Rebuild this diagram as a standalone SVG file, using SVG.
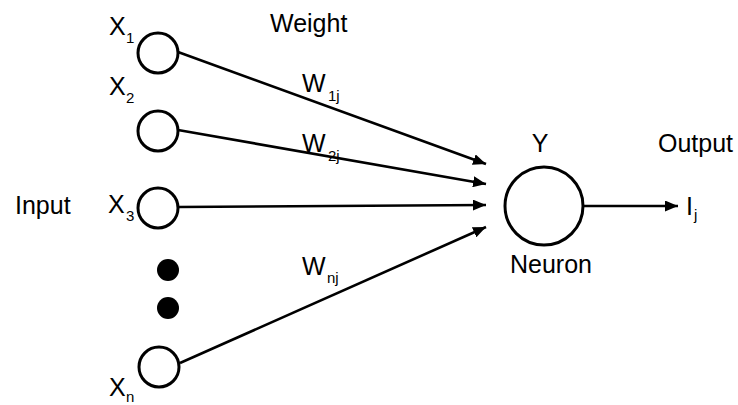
<svg xmlns="http://www.w3.org/2000/svg" width="738" height="405" viewBox="0 0 738 405">
<style>
text{font-family:"Liberation Sans",Arial,sans-serif;fill:#000}
.t{font-size:25px}
.s{font-size:15px}
.node{fill:#fff;stroke:#000;stroke-width:3}
.edge{stroke:#000;stroke-width:2.6;fill:none}
</style>
<defs>
<marker id="ah" markerUnits="userSpaceOnUse" markerWidth="13" markerHeight="11" refX="13" refY="5.5" orient="auto">
<path d="M0,0 L13,5.5 L0,11 z" fill="#000"/>
</marker>
</defs>
<rect width="738" height="405" fill="#fff"/>
<g id="connectors">
<line class="edge" x1="178" y1="52" x2="486" y2="164" marker-end="url(#ah)"/>
<line class="edge" x1="178" y1="130" x2="486" y2="184" marker-end="url(#ah)"/>
<line class="edge" x1="178" y1="207" x2="486" y2="205" marker-end="url(#ah)"/>
<line class="edge" x1="180" y1="363" x2="486" y2="227" marker-end="url(#ah)"/>
<line class="edge" x1="583" y1="206" x2="678" y2="206" marker-end="url(#ah)"/>
</g>
<g id="x1">
<circle class="node" cx="158" cy="53" r="20"/>
<text class="t" x="109" y="35">X</text><text class="s" x="126" y="43">1</text>
</g>
<g id="x2">
<circle class="node" cx="158" cy="131" r="20"/>
<text class="t" x="109" y="95">X</text><text class="s" x="126" y="103">2</text>
</g>
<g id="x3">
<circle class="node" cx="158" cy="208" r="20"/>
<text class="t" x="108" y="213">X</text><text class="s" x="126" y="221">3</text>
</g>
<g id="dots">
<circle cx="168" cy="270" r="11" fill="#000"/>
<circle cx="168" cy="308" r="11" fill="#000"/>
</g>
<g id="xn">
<circle class="node" cx="159" cy="367" r="20"/>
<text class="t" x="109" y="396">X</text><text class="s" x="126" y="402">n</text>
</g>
<g id="input"><text class="t" x="15" y="214">Input</text></g>
<g id="weight"><text class="t" x="270" y="32">Weight</text></g>
<g id="w1"><text class="t" x="302" y="92">W</text><text class="s" x="328" y="101">1j</text></g>
<g id="w2"><text class="t" x="302" y="152">W</text><text class="s" x="328" y="161">2j</text></g>
<g id="wn"><text class="t" x="302" y="275">W</text><text class="s" x="327" y="283">nj</text></g>
<g id="neuron">
<circle class="node" cx="544" cy="206" r="39"/>
<text class="t" x="540" y="152" text-anchor="middle">Y</text>
<text class="t" x="510" y="273">Neuron</text>
</g>
<g id="output">
<text class="t" x="658" y="152">Output</text>
<text class="t" x="686" y="215">I</text><text class="s" x="694" y="220">j</text>
</g>
</svg>
